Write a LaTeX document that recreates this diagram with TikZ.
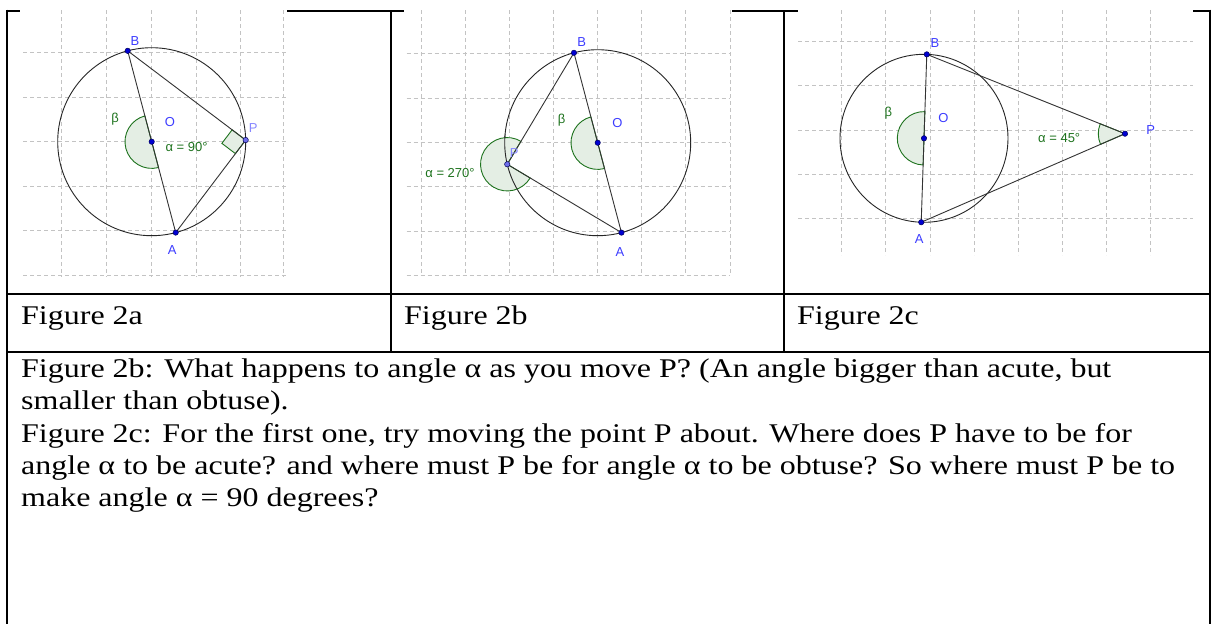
\documentclass[tikz,border=0pt]{standalone}
\usepackage{fontspec}
\setmainfont{Liberation Serif}
\newfontfamily\ggfont{Liberation Sans}
\usepackage{graphicx}
\usetikzlibrary{calc}
\definecolor{gridgray}{RGB}{195,195,195}
\definecolor{ggreen}{RGB}{30,115,30}
\definecolor{gfill}{RGB}{228,238,228}
\definecolor{dotblue}{RGB}{0,0,210}
\definecolor{dotedge}{RGB}{0,0,90}
\definecolor{freeblue}{RGB}{110,110,235}
\definecolor{lblblue}{RGB}{60,60,255}
\definecolor{lbllight}{RGB}{135,135,255}
\newcommand{\wide}[1]{\scalebox{1.185}[1]{#1}}
\begin{document}
\begin{tikzpicture}[x=1pt,y=-1pt,
  gridline/.style={draw=gridgray, line width=0.7pt, dash pattern=on 4pt off 3pt},
  circ/.style={draw=black!85, line width=0.9pt},
  seg/.style={draw=black!80, line width=0.9pt},
  sector/.style={fill=gfill, draw=ggreen, line width=0.9pt},
  dot/.style={fill=dotblue, draw=dotedge, line width=0.5pt},
  freedot/.style={fill=freeblue, draw=dotedge, line width=0.5pt},
  ptlabel/.style={text=lblblue, font=\ggfont\fontsize{13}{15}\selectfont, inner sep=0pt},
  plabel/.style={text=lbllight, font=\ggfont\fontsize{13}{15}\selectfont, inner sep=0pt},
  anglabel/.style={text=ggreen, font=\ggfont\fontsize{13}{15}\selectfont, inner sep=0pt},
  tablerule/.style={line width=2.2pt, draw=black},
  cell/.style={anchor=base west, inner sep=0pt, font=\fontsize{27}{32}\selectfont},
]
\useasboundingbox (0,0) rectangle (1219,624);
\fill[white] (0,0) rectangle (1219,624);

% ---------------- Figure 2a ----------------
\foreach \gx in {61.7,106.7,151.7,196,240,283.3} \draw[gridline] (\gx,10) -- (\gx,277);
\foreach \gy in {52.7,97.3,141.7,186,230,275} \draw[gridline] (23,\gy) -- (287,\gy);
\coordinate (Oa) at (151.7,141.7);
\coordinate (Ba) at ($(Oa)+(255.2:94)$);
\coordinate (Aa) at ($(Oa)+(75.2:94)$);
\coordinate (Pa) at ($(Oa)+(-1:94)$);
\draw[circ] (Oa) circle[radius=94];
\filldraw[sector] (Oa) -- ($(Oa)+(75.2:26.7)$) arc[start angle=75.2, end angle=255.2, radius=26.7] -- cycle;
\coordinate (qa1) at ($(Pa)!17pt!(Ba)$);
\coordinate (qa2) at ($(Pa)!17pt!(Aa)$);
\coordinate (qa3) at ($(qa1)+(qa2)-(Pa)$);
\filldraw[sector] (Pa) -- (qa1) -- (qa3) -- (qa2) -- cycle;
\draw[seg] (Ba) -- (Aa);
\draw[seg] (Ba) -- (Pa) -- (Aa);
\filldraw[dot] (Ba) circle[radius=2.7];
\filldraw[dot] (Aa) circle[radius=2.7];
\filldraw[dot] (Oa) circle[radius=2.7];
\filldraw[freedot] (Pa) circle[radius=2.7];
\node[ptlabel] (lBa) at (135,40.7) {B};
\node[ptlabel] (lAa) at (172.3,250) {A};
\node[ptlabel] (lOa) at (170,122.3) {O};
\node[plabel] (lPa) at (253.3,127.7) {P};
\node[anglabel] (lba) at (115,119) {β};
\node[anglabel] (laa) at (186.5,146.7) {α = 90°};

% ---------------- Figure 2b ----------------
\foreach \gx in {421,465,509,553.3,597.7,641.7,685.7,730} \draw[gridline] (\gx,10) -- (\gx,275);
\foreach \gy in {53.3,98.3,142.7,186.7,231,275.3} \draw[gridline] (406.7,\gy) -- (730,\gy);
\coordinate (Ob) at (597.7,142.7);
\coordinate (Bb) at ($(Ob)+(255.2:93)$);
\coordinate (Ab) at ($(Ob)+(75.2:93)$);
\coordinate (Pb) at ($(Ob)+(166.6:93)$);
\draw[circ] (Ob) circle[radius=93];
\filldraw[sector] (Ob) -- ($(Ob)+(75.2:26.7)$) arc[start angle=75.2, end angle=255.2, radius=26.7] -- cycle;
\filldraw[sector] (Pb) -- ($(Pb)+(30.9:26.7)$) arc[start angle=30.9, end angle=300.9, radius=26.7] -- cycle;
\draw[circ] ($(Ob)+(150:93)$) arc[start angle=150, end angle=185, radius=93];
\draw[seg] (Bb) -- (Ab);
\draw[seg] (Bb) -- (Pb) -- (Ab);
\filldraw[dot] (Bb) circle[radius=2.7];
\filldraw[dot] (Ab) circle[radius=2.7];
\filldraw[dot] (Ob) circle[radius=2.7];
\filldraw[freedot] (Pb) circle[radius=2.7];
\node[ptlabel] (lBb) at (581.7,41.7) {B};
\node[ptlabel] (lAb) at (620,251.7) {A};
\node[ptlabel] (lOb) at (617.3,122.7) {O};
\node[plabel] (lPb) at (514.3,152.7) {P};
\node[anglabel] (lbb) at (561.7,120) {β};
\node[anglabel] (lab) at (450,173.3) {α = 270°};

% ---------------- Figure 2c ----------------
\foreach \gx in {841.7,885.7,930,974,1018.3,1062.3,1106.7,1150.7} \draw[gridline] (\gx,10) -- (\gx,255);
\foreach \gy in {41.7,85.7,130,174,218.3} \draw[gridline] (798,\gy) -- (1193,\gy);
\coordinate (Oc) at (924,138.3);
\coordinate (Bc) at ($(Oc)+(271.9:84)$);
\coordinate (Ac) at ($(Oc)+(91.9:84)$);
\coordinate (Pc) at (1125,133.7);
\draw[circ] (Oc) circle[radius=84];
\filldraw[sector] (Oc) -- ($(Oc)+(91.9:26.7)$) arc[start angle=91.9, end angle=271.9, radius=26.7] -- cycle;
\filldraw[sector] (Pc) -- ($(Pc)+(156.5:26.7)$) arc[start angle=156.5, end angle=201.8, radius=26.7] -- cycle;
\draw[seg] (Bc) -- (Ac);
\draw[seg] (Bc) -- (Pc) -- (Ac);
\filldraw[dot] (Bc) circle[radius=2.7];
\filldraw[dot] (Ac) circle[radius=2.7];
\filldraw[dot] (Oc) circle[radius=2.7];
\filldraw[dot] (Pc) circle[radius=2.7];
\node[ptlabel] (lBc) at (935,43.3) {B};
\node[ptlabel] (lAc) at (919.3,239.3) {A};
\node[ptlabel] (lOc) at (943.3,118.3) {O};
\node[ptlabel] (lPc) at (1150.7,130) {P};
\node[anglabel] (lbc) at (888.3,112.7) {β};
\node[anglabel] (lac) at (1059.2,138.3) {α = 45°};

% ---------------- Table ----------------
\draw[tablerule] (7,10.7) -- (20,10.7);
\draw[tablerule] (287,10.7) -- (404,10.7);
\draw[tablerule] (732,10.7) -- (798,10.7);
\draw[tablerule] (1193,10.7) -- (1210,10.7);
\draw[tablerule] (7,9.6) -- (7,626);
\draw[tablerule] (1210,9.6) -- (1210,626);
\draw[tablerule] (391,10) -- (391,352.8);
\draw[tablerule] (784,10) -- (784,352.8);
\draw[tablerule] (7,294.3) -- (1210,294.3);
\draw[tablerule] (7,351.7) -- (1210,351.7);

\node[cell] (c2a) at (21,324.3) {\wide{Figure 2a}};
\node[cell] (c2b) at (404,324.3) {\wide{Figure 2b}};
\node[cell] (c2c) at (797,324.3) {\wide{Figure 2c}};
\node[cell] (t1) at (21,377.7) {\wide{Figure 2b: What happens to angle α as you move P? (An angle bigger than acute, but}};
\node[cell] (t2) at (21,409.95) {\wide{smaller than obtuse).}};
\node[cell] (t3) at (21,442.2) {\wide{Figure 2c: For the first one, try moving the point P about. Where does P have to be for}};
\node[cell] (t4) at (21,474.45) {\wide{angle α to be acute? and where must P be for angle α to be obtuse? So where must P be to}};
\node[cell] (t5) at (21,506.7) {\wide{make angle α = 90 degrees?}};
\end{tikzpicture}
\end{document}
